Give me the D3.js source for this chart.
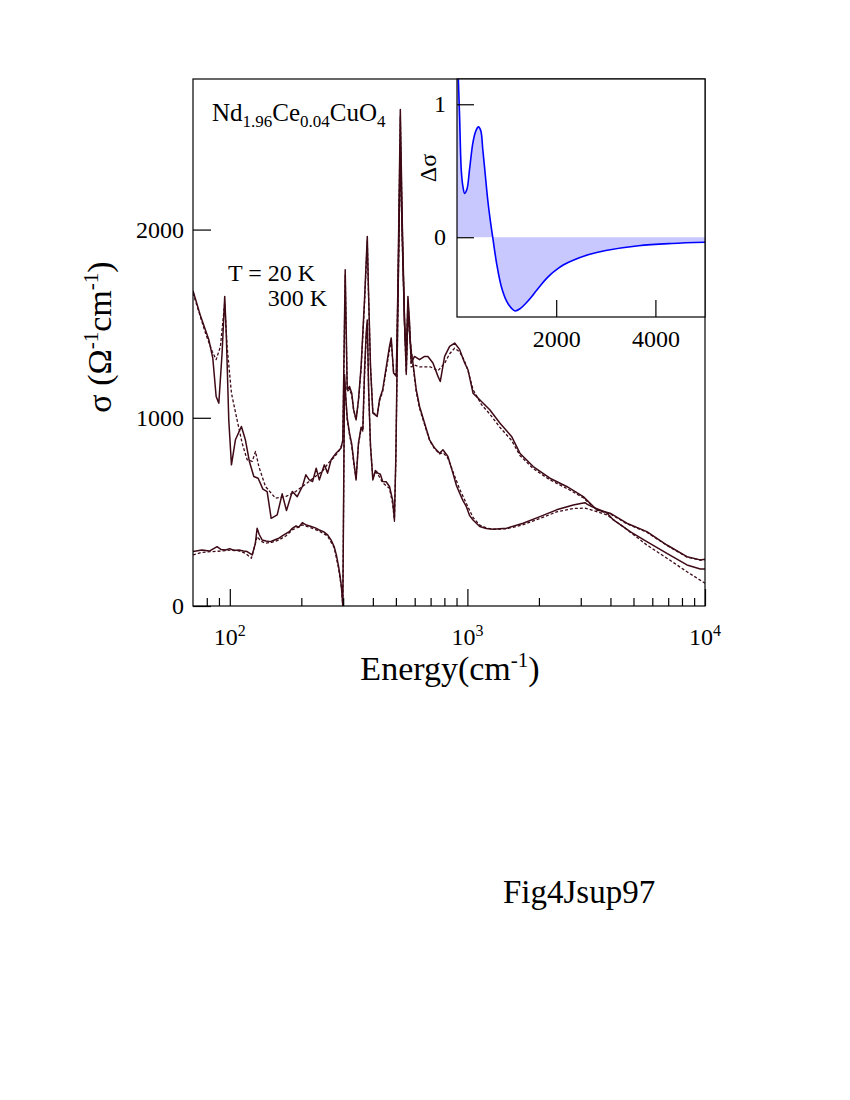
<!DOCTYPE html>
<html>
<head>
<meta charset="utf-8">
<title>Nd1.96Ce0.04CuO4 optical conductivity</title>
<style>
body { margin: 0; background: #fff; }
svg text { font-family: "Liberation Serif", "Times New Roman", serif; fill: #000; }
.frame { fill: none; stroke: #000; stroke-width: 1.2px; }
.axis path.domain { display: none; }
.axis line { stroke: #000; stroke-width: 1.2px; }
.sig { fill: none; stroke: #3d0a16; stroke-width: 1.5px; stroke-linejoin: round; }
.sig.dot { stroke-dasharray: 3,2; stroke-width: 1.3px; }
</style>
</head>
<body>
<script src="https://cdnjs.cloudflare.com/ajax/libs/d3/7.8.5/d3.min.js"></script>
<script>

// ---- data: [energy (cm-1), sigma (ohm-1 cm-1)]
var upperSolid = [
  [70,1675],[75,1548],[81.6,1415],[84.8,1317],[87.6,1113],[89.9,1078],[92.8,1344],[95.2,1645],
  [96.7,1432],[99,989],[101.6,750],[105.6,883],[111.9,954],[116.3,883],[120.9,768],[126.2,688],
  [131.6,679],[137.8,621],[143.6,608],[149.3,466],[158.3,484],[166.1,596],[173.2,507],[183.2,608],
  [192.2,581],[202,635],[209,697],[216,670],[223,661],[231,732],[238,670],[250,750],[258,706],
  [267,777],[280,812],[294,839],[299,883],[306,1787],[312,1149],[319,1166],[326,1131],[332,1043],
  [340,989],[348,1096],[357,1273],[369,1628],[379,1963],[383,1698],[391,1273],[400,1025],[417,1007],
  [427,1100],[440,1149],[470,1379],[478,1424],[489,1238],[502,1220],[510,1700],[522,2638],[532,2035],
  [544,1504],[553,1326],[562,1645],[571,1504],[580,1291],[599,1326],[629,1309],[660,1326],[682,1326],
  [716,1291],[752,1220],[769,1193],[802,1326],[842,1379],[884,1397],[928,1362],[974,1291],[1006,1255],
  [1056,1131],[1146,1087],[1242,1043],[1369,972],[1534,901],[1663,812],[1892,741],[2225,679],
  [2617,635],[3074,581],[3503,511],[3985,493],[4688,440],[5692,395],[6914,324],[8397,262],
  [9555,245],[10000,248]
];

var upperDotted = [
  [70,1663],[79,1450],[84.3,1353],[87.6,1309],[91.3,1379],[95.2,1610],[97.4,1379],[101.6,1131],
  [107.3,989],[112.7,865],[118.3,777],[124.2,768],[128.3,821],[132.5,741],[141.3,635],[155.7,573],
  [171.8,581],[189.3,608],[202,635],[215,660],[230,690],[245,715],[260,760],[275,790],[290,830],
  [299,870],[306,1760],[312,1140],[319,1150],[326,1120],[332,1040],[340,990],[348,1090],[357,1260],
  [369,1610],[379,1940],[383,1690],[391,1270],[400,1030],[417,1010],[427,1090],[440,1140],[470,1360],
  [478,1410],[489,1240],[502,1230],[510,1680],[522,2600],[532,2020],[544,1490],[553,1300],[562,1620],
  [571,1490],[580,1270],[599,1280],[629,1270],[660,1270],[700,1270],[752,1250],[802,1290],[842,1340],
  [884,1370],[928,1350],[974,1300],[1006,1250],[1056,1150],[1146,1070],[1242,1020],[1369,950],
  [1534,880],[1663,800],[1892,730],[2225,670],[2617,625],[3074,575],[3503,510],[3985,490],
  [4688,437],[5692,392],[6914,322],[8397,260],[9555,244],[10000,246]
];

var lowerSolid = [
  [70,289],[76.4,298],[82,292],[88.4,315],[92,300],[95.8,298],[100,305],[104,295],[109.1,298],
  [114,292],[118.3,289],[124.2,271],[128,330],[130.3,413],[133,380],[136.8,351],[142,345],[148.2,342],
  [155,352],[161,360],[170,380],[178,395],[183.2,413],[190,425],[195,418],[202,443],[210,430],
  [220,422],[229,415],[238,404],[248,395],[258,378],[267,350],[275,315],[281,270],[287,209],
  [291,160],[295,103],[299,0],[304,1230],[308,1100],[312,1000],[319,918],[326,860],[333,760],
  [340,670],[348,865],[357,950],[363,936],[369,1250],[375,1450],[379,1520],[384,1150],[391,850],
  [400,670],[410,720],[420,706],[430,700],[440,661],[455,660],[470,635],[485,560],[493,460],
  [500,800],[510,1600],[522,2450],[532,1950],[544,1500],[553,1238],[562,1580],[571,1450],[580,1350],
  [590,1291],[609,1149],[629,1060],[660,972],[693,883],[728,839],[764,812],[789,830],[828,794],
  [869,706],[899,640],[928,599],[958,560],[990,528],[1022,480],[1056,457],[1127,422],[1200,412],
  [1282,408],[1461,413],[1716,440],[2019,475],[2374,511],[2790,537],[3000,545],[3125,549],
  [3200,540],[3337,528],[3860,496],[4115,457],[4540,420],[4840,395],[5692,342],[6914,280],
  [8397,218],[9555,197],[10000,197]
];

var lowerDotted = [
  [70,271],[76,285],[84.3,289],[92,292],[102.3,298],[110,292],[116.3,280],[123.3,254],[130.3,369],
  [135,345],[141.3,334],[150,338],[161,351],[172,372],[183.2,404],[195,420],[202,431],[220,415],
  [238,398],[258,372],[275,310],[287,200],[295,95],[299,0],[304,1200],[312,990],[319,910],[326,850],
  [333,750],[340,680],[348,860],[357,940],[363,930],[369,1230],[375,1430],[379,1500],[384,1140],
  [391,850],[400,680],[410,710],[420,700],[440,655],[470,625],[485,540],[493,450],[500,780],
  [510,1580],[522,2420],[532,1930],[544,1490],[553,1230],[562,1560],[571,1440],[590,1280],
  [609,1140],[629,1050],[660,965],[693,880],[728,835],[764,808],[789,815],[828,785],[869,715],
  [928,620],[990,545],[1056,470],[1127,430],[1200,415],[1282,408],[1461,410],[1716,432],[2019,465],
  [2374,500],[2790,518],[3125,520],[3337,510],[3860,484],[4540,420],[5692,324],[6914,254],
  [8397,182],[10000,121]
];

// inset: delta sigma vs energy
var insetE = [0,27,53,87,120,153,200,253,320,380,433,480,520,570,620,670,720,800,893,1000,1100,1173,
  1280,1393,1500,1593,1700,1793,1900,2000,2150,2330,2660,3000,3660,4330,5000];
var insetD = [1.5,1.19,0.9,0.5,0.38,0.33,0.36,0.51,0.71,0.8,0.83,0.8,0.66,0.47,0.28,0.13,0.0,-0.2,
  -0.37,-0.48,-0.535,-0.555,-0.535,-0.495,-0.45,-0.405,-0.355,-0.315,-0.275,-0.245,-0.207,-0.175,-0.13,
  -0.10,-0.064,-0.047,-0.038];

var xMajor = [100, 1000, 10000];
var xMinor = [80, 90, 200, 300, 400, 500, 600, 700, 800, 900, 2000, 3000, 4000, 5000, 6000, 7000, 8000, 9000];
var yTicks = [0, 1000, 2000];
var insetXTicks = [2000, 4000];
var insetYTicks = [0, 1];

var width = 850, height = 1100;
var L = 193, R = 705, T = 79, B = 606;

var svg = d3.select("body").append("svg")
    .attr("width", width)
    .attr("height", height);

svg.append("rect").attr("width", width).attr("height", height).attr("fill", "#fff");

var x = d3.scaleLog().domain([70, 10000]).range([L, R]);
var y = d3.scaleLinear().domain([0, 2800]).range([B, T]);

svg.append("defs").append("clipPath").attr("id", "mainclip")
  .append("rect").attr("x", L).attr("y", T).attr("width", R - L).attr("height", B - T);

var line = d3.line()
    .x(function(d) { return x(d[0]); })
    .y(function(d) { return y(d[1]); });

var g = svg.append("g").attr("clip-path", "url(#mainclip)");
[[lowerDotted, true], [upperDotted, true], [lowerSolid, false], [upperSolid, false]].forEach(function(s) {
  g.append("path")
    .datum(s[0])
    .attr("class", s[1] ? "sig dot" : "sig")
    .attr("d", line);
});

// axes (ticks point inward)
svg.append("g").attr("class", "axis")
  .attr("transform", "translate(0," + B + ")")
  .call(d3.axisBottom(x).tickValues(xMajor).tickSize(-17).tickFormat(""));
svg.append("g").attr("class", "axis")
  .attr("transform", "translate(0," + B + ")")
  .call(d3.axisBottom(x).tickValues(xMinor).tickSize(-8).tickFormat(""));

var xl = svg.append("g");
xMajor.forEach(function(v) {
  var t = xl.append("text")
    .attr("x", x(v))
    .attr("y", 645)
    .attr("text-anchor", "middle")
    .style("font-size", "24px");
  t.append("tspan").text("10");
  t.append("tspan").attr("dy", -9).style("font-size", "16px").text(Math.round(Math.log10(v)));
});

svg.append("g").attr("class", "axis")
  .attr("transform", "translate(" + L + ",0)")
  .call(d3.axisLeft(y).tickValues(yTicks).tickSize(-18).tickPadding(9).tickFormat(d3.format("d")))
  .selectAll("text").style("font-size", "24px").style("font-family", "Liberation Serif");

svg.append("rect").attr("class", "frame")
  .attr("x", L).attr("y", T).attr("width", R - L).attr("height", B - T);

// axis titles
var xt = svg.append("text")
  .attr("x", 450).attr("y", 680)
  .attr("text-anchor", "middle")
  .style("font-size", "34px");
xt.append("tspan").text("Energy(cm");
xt.append("tspan").attr("dy", -13).style("font-size", "21px").text("-1");
xt.append("tspan").attr("dy", 13).text(")");

var yt = svg.append("text")
  .attr("transform", "translate(111,337) rotate(-90)")
  .attr("text-anchor", "middle")
  .style("font-size", "34px");
yt.append("tspan").text("\u03c3 (\u03a9");
yt.append("tspan").attr("dy", -13).style("font-size", "21px").text("-1");
yt.append("tspan").attr("dy", 13).text("cm");
yt.append("tspan").attr("dy", -13).style("font-size", "21px").text("-1");
yt.append("tspan").attr("dy", 13).text(")");

// compound label
var cl = svg.append("text").attr("x", 212).attr("y", 121).style("font-size", "25px");
cl.append("tspan").text("Nd");
cl.append("tspan").attr("dy", 6).style("font-size", "17px").text("1.96");
cl.append("tspan").attr("dy", -6).text("Ce");
cl.append("tspan").attr("dy", 6).style("font-size", "17px").text("0.04");
cl.append("tspan").attr("dy", -6).text("CuO");
cl.append("tspan").attr("dy", 6).style("font-size", "17px").text("4");

svg.append("text").attr("x", 228).attr("y", 281).style("font-size", "24px").text("T = 20 K");
svg.append("text").attr("x", 327).attr("y", 306).attr("text-anchor", "end").style("font-size", "24px").text("300 K");

// ---- inset
var iL = 457, iR = 705, iT = 79, iB = 317;
var ix = d3.scaleLinear().domain([0, 5000]).range([iL, iR]);
var iy = d3.scaleLinear().domain([-0.6, 1.19]).range([iB, iT]);

svg.append("rect").attr("x", iL).attr("y", iT).attr("width", iR - iL).attr("height", iB - iT).attr("fill", "#fff");
svg.select("defs").append("clipPath").attr("id", "insetclip")
  .append("rect").attr("x", iL).attr("y", iT).attr("width", iR - iL).attr("height", iB - iT);

var insetData = insetE.map(function(e, i) { return [e, insetD[i]]; });
var smooth = d3.curveCatmullRom.alpha(0.5);
var ig = svg.append("g").attr("clip-path", "url(#insetclip)");
ig.append("path")
  .datum(insetData)
  .attr("fill", "#c8c8ff")
  .attr("d", d3.area().curve(smooth)
    .x(function(d) { return ix(d[0]); })
    .y0(iy(0))
    .y1(function(d) { return iy(d[1]); }));
ig.append("path")
  .datum(insetData)
  .attr("fill", "none")
  .attr("stroke", "#0000ff")
  .attr("stroke-width", 1.6)
  .attr("d", d3.line().curve(smooth)
    .x(function(d) { return ix(d[0]); })
    .y(function(d) { return iy(d[1]); }));

svg.append("g").attr("class", "axis")
  .attr("transform", "translate(0," + iB + ")")
  .call(d3.axisBottom(ix).tickValues(insetXTicks).tickSize(-17).tickPadding(13).tickFormat(d3.format("d")))
  .selectAll("text").style("font-size", "24px").style("font-family", "Liberation Serif");
svg.append("g").attr("class", "axis")
  .attr("transform", "translate(" + iL + ",0)")
  .call(d3.axisLeft(iy).tickValues(insetYTicks).tickSize(-17).tickPadding(11).tickFormat(d3.format("d")))
  .selectAll("text").style("font-size", "24px").style("font-family", "Liberation Serif");

svg.append("rect").attr("class", "frame")
  .attr("x", iL).attr("y", iT).attr("width", iR - iL).attr("height", iB - iT);

svg.append("text")
  .attr("transform", "translate(436,168) rotate(-90)")
  .attr("text-anchor", "middle")
  .style("font-size", "24px")
  .text("\u0394\u03c3");

svg.append("text").attr("x", 503).attr("y", 903).style("font-size", "33px").text("Fig4Jsup97");

</script>
</body>
</html>
